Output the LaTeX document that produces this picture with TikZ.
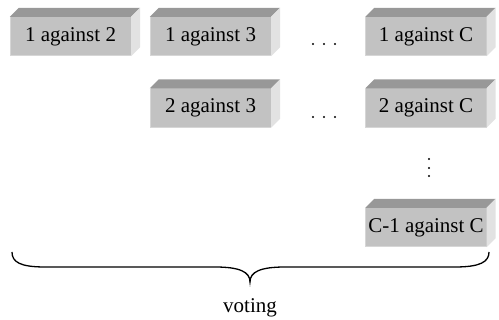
\documentclass[tikz,border=0pt]{standalone}
\usepackage{fontspec}
\setmainfont{Liberation Serif}
\usepackage{tikz}

\definecolor{boxfront}{RGB}{194,194,194}
\definecolor{boxtop}{RGB}{152,152,152}
\definecolor{boxside}{RGB}{226,226,226}
\definecolor{boxedge}{RGB}{214,214,214}

\tikzset{
  pairbox/.style={fill=boxfront,inner sep=0pt,minimum width=121pt,minimum height=39pt,
    font=\fontsize{21pt}{24pt}\selectfont},
  dotmark/.style={fill=black}
}

\begin{document}
\begin{tikzpicture}[x=1pt,y=-1pt]
\useasboundingbox (0,0) rectangle (499,320);

% front faces
\node[pairbox] (b12) at (70.5,36.5) {1 against 2};
\node[pairbox] (b13) at (210.5,36.5) {1 against 3};
\node[pairbox] (b1C) at (426,36.5) {1 against C};
\node[pairbox] (b23) at (210.5,108) {2 against 3};
\node[pairbox] (b2C) at (426,108) {2 against C};
\node[pairbox] (bC1C) at (426,227.5) {C-1 against C};

% top and side faces
\foreach \n in {b12,b13,b1C,b23,b2C,bC1C} {
  \fill[boxtop] (\n.north west) -- ++(9,-9) -- ([shift={(9,-9)}]\n.north east) -- (\n.north east) -- cycle;
  \fill[boxside] (\n.north east) -- ++(9,-9) -- ([shift={(9,-9)}]\n.south east) -- (\n.south east) -- cycle;
  \draw[boxedge,line width=1pt] ([shift={(0.5,0)}]\n.north west) -- ([shift={(0.5,-0.5)}]\n.south west) -- ([shift={(0,-0.5)}]\n.south east);
}

% dots
\foreach \x in {313,324,335} {
  \fill[dotmark] (\x,44) circle (1.2);
  \fill[dotmark] (\x,117) circle (1.2);
}
\foreach \y in {159,168,176}
  \fill[dotmark] (429,\y) circle (1.2);

% brace
\draw[line width=1.3pt] (12,252) .. controls (12,262) and (20,267) .. (45,267) -- (215,267)
  .. controls (240,267) and (250,272) .. (250,282)
  .. controls (250,272) and (260,267) .. (285,267) -- (455,267)
  .. controls (480,267) and (489,262) .. (489,252);
\node[font=\fontsize{21pt}{24pt}\selectfont] (vote) at (250,308) {voting};
\end{tikzpicture}
\end{document}
